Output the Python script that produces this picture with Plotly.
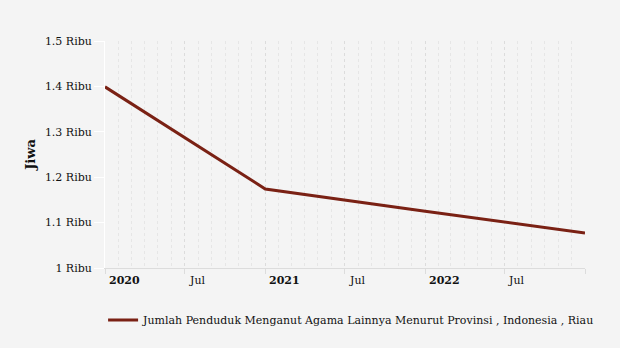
import plotly.graph_objects as go

dates = ["2020-01-01", "2021-01-01", "2022-01-01", "2023-01-01"]
values = [1399, 1174, 1125, 1077]
series_name = "Jumlah Penduduk Menganut Agama Lainnya Menurut Provinsi , Indonesia , Riau"
y_ticks = [1000, 1100, 1200, 1300, 1400, 1500]
y_ticktext = ["1 Ribu", "1.1 Ribu", "1.2 Ribu", "1.3 Ribu", "1.4 Ribu", "1.5 Ribu"]
x_label_dates = ["2020-01-01", "2020-07-01", "2021-01-01", "2021-07-01", "2022-01-01", "2022-07-01"]
x_label_text = ["<b>2020</b>", "Jul", "<b>2021</b>", "Jul", "<b>2022</b>", "Jul"]

FONT = "DejaVu Serif"
fig = go.Figure()
fig.add_trace(go.Scatter(x=dates, y=values, mode="lines", name=series_name,
                         line=dict(color="#7a2114", width=3)))

for d, t in zip(x_label_dates, x_label_text):
    fig.add_annotation(x=d, y=0, xref="x", yref="paper", text=t, showarrow=False,
                       xanchor="left", yanchor="top", xshift=2, yshift=-4,
                       font=dict(family=FONT, size=11, color="#111"))

fig.update_layout(
    width=620, height=348,
    paper_bgcolor="#f4f4f4", plot_bgcolor="#f4f4f4",
    margin=dict(l=105, r=35, t=41, b=80, autoexpand=False),
    font=dict(family=FONT, size=11, color="#111"),
    showlegend=True,
    legend=dict(orientation="h", x=-0.004, xanchor="left", y=-0.229, yanchor="middle",
                font=dict(family=FONT, size=11, color="#111"), itemwidth=30),
    xaxis=dict(type="date", range=["2020-01-01", "2023-01-01"],
               dtick="M6", tick0="2020-01-01", showticklabels=False,
               showgrid=True, gridcolor="#dcdcdc", griddash="dot", gridwidth=1,
               ticks="outside", ticklen=5, tickcolor="#dcdcdc",
               showline=True, linecolor="#dcdcdc", linewidth=1,
               minor=dict(dtick="M1", showgrid=True, gridcolor="#e6e6e6", griddash="dot"),
               zeroline=False),
    yaxis=dict(range=[1000, 1500], tickvals=y_ticks, ticktext=y_ticktext,
               showgrid=False, zeroline=False, ticks="outside", ticklen=10,
               tickcolor="#ffffff", showline=True, linecolor="#ffffff", linewidth=1,
               title=dict(text="<b>Jiwa</b>", font=dict(family=FONT, size=13), standoff=6),
               tickfont=dict(family=FONT, size=11)),
)
fig.write_html("out.html")
